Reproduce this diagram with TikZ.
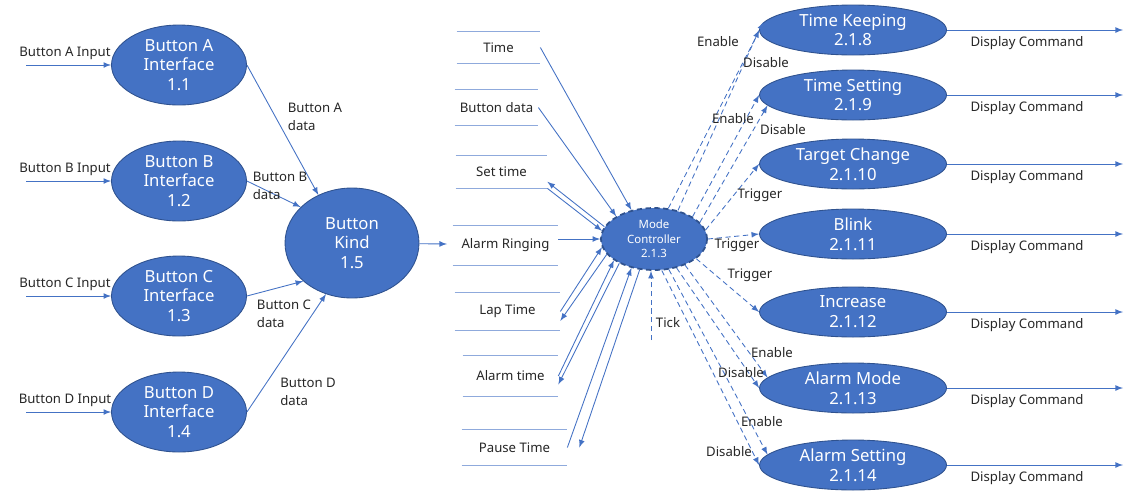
\documentclass[tikz,border=0pt]{standalone}
\usepackage{fontspec}
\setmainfont{Noto Sans}
\usetikzlibrary{shapes.geometric}

\definecolor{procblue}{HTML}{4472C4}
\definecolor{rimblue}{HTML}{2F528F}
\definecolor{flowblue}{HTML}{4472C4}
\definecolor{storeline}{HTML}{8FAADC}
\definecolor{labelgray}{HTML}{262626}

\begin{document}
\begin{tikzpicture}[
    x=0.02cm, y=-0.02cm,
    proc/.style={ellipse, draw=rimblue, line width=0.5pt, fill=procblue, text=white, align=center, inner sep=0pt, font=\fontsize{9.5}{11}\selectfont},
    button/.style={proc, minimum width=2.7cm, minimum height=1.6cm},
    mode/.style={proc, minimum width=3.74cm, minimum height=1cm, font=\fontsize{9.5}{11.3}\selectfont},
    store/.style={inner sep=0pt, text=labelgray, font=\fontsize{7.5}{9}\selectfont},
    lbl/.style={inner sep=1pt, align=left, text=labelgray, font=\fontsize{7.5}{10}\selectfont},
    flow/.style={draw=flowblue, line width=0.5pt, -latex},
    ctrl/.style={flow, densely dashed}
]
\useasboundingbox (0,0) rectangle (1125,491);

% button interfaces
\foreach \nm/\ab/\num/\yy in {ifa/A/1/65, ifb/B/2/181, ifc/C/3/296, ifd/D/4/412} {
    \node [button] (\nm) at (179,\yy) {Button \ab\\Interface\\1.\num};
    \coordinate (\nm-in) at (26,\yy);
    \draw [flow] (\nm-in) -- (\nm);
    \node [lbl] (\nm-lbl) at (65,\yy-12) {Button \ab\ Input};
}

\node [proc, minimum width=2.68cm, minimum height=2.2cm] (kind) at (352,243) {Button\\Kind\\1.5};

\draw [flow] (ifa.east) -- (kind.125);
\draw [flow] (ifb.east) -- (kind.145);
\draw [flow] (ifc.east) -- (kind.218);
\draw [flow] (ifd.east) -- (kind.243);
\node [lbl] (adata) at (315,117) {Button A\\data};
\node [lbl] (bdata) at (280,186) {Button B\\data};
\node [lbl] (cdata) at (284,314) {Button C\\data};
\node [lbl] (ddata) at (308,392) {Button D\\data};

\coordinate (kind-out) at (447,244);
\draw [flow] (kind) -- (kind-out);

% data stores
\foreach \nm/\txt/\xa/\xb/\ya/\yb in {
    time/Time/457/540/32/63,
    btn/Button data/455/538/90/125,
    set/Set time/456/547/156/188,
    ring/Alarm Ringing/453/558/226/265,
    lap/Lap Time/455/560/293/330,
    alarm/Alarm time/463/558/356/396,
    pause/Pause Time/462/567/430/465} {
    \node [store, minimum width={(\xb-\xa)*0.02cm}, minimum height={(\yb-\ya)*0.02cm}] (\nm) at ({(\xa+\xb)/2},{(\ya+\yb)/2}) {\txt};
    \draw [storeline] (\nm.north west) -- (\nm.north east) (\nm.south west) -- (\nm.south east);
}

% mode controller
\node [proc, densely dashed, line width=1pt, minimum width=2.12cm, minimum height=1.24cm, font=\fontsize{6.5}{8.2}\selectfont] (mc) at (654,239) {Mode\\Controller\\2.1.3};

\draw [flow] (time.east) -- (mc.128);
\draw [flow] (btn.east) -- (mc.149);
\draw [flow] (mc.166) -- (set.-12);
\draw [flow] (set.south east) -- (mc.171);
\draw [flow] (ring.east |- mc.west) -- (mc.west);
\draw [flow] (lap.east) -- (mc.189);
\draw [flow] (mc.198) -- (lap.-10);
\draw [flow] (alarm.east) -- (mc.208);
\draw [flow] (mc.215) -- (alarm.-10);
\draw [flow] (pause.east) -- (mc.232);
\draw [flow] (mc.245) -- ([xshift=0.24cm]pause.east);

\coordinate (tick) at (651,340);
\draw [ctrl] (tick) -- (tick |- mc.south);
\node [lbl] (ticklbl) at (668,323) {Tick};

% modes
\foreach \nm/\txt/\yy in {
    tk/Time Keeping\\2.1.8/30,
    ts/Time Setting\\2.1.9/95,
    tc/Target Change\\2.1.10/164,
    bl/Blink\\2.1.11/234,
    inc/Increase\\2.1.12/312,
    am/Alarm Mode\\2.1.13/388,
    as/Alarm Setting\\2.1.14/465} {
    \node [mode] (\nm) at (853,\yy) {\txt};
    \coordinate (\nm-out) at (1123,\yy);
    \draw [flow] (\nm) -- (\nm-out) node [lbl, below=2.5pt, pos=0.455] {Display Command};
}

\draw [ctrl] (mc.65) -- (tk.175);
\draw [ctrl] (mc.50) -- (tk.west);
\draw [ctrl] (mc.30) -- (ts.west);
\draw [ctrl] (mc.20) -- (ts.187);
\draw [ctrl] (mc.10) -- (tc.west);
\draw [ctrl] (mc.east) -- (bl.west);
\draw [ctrl] (mc.-25) -- (inc.west);
\draw [ctrl] (mc.-40) -- (am.173);
\draw [ctrl] (mc.-52) -- (am.west);
\draw [ctrl] (mc.-64) -- (as.173);
\draw [ctrl] (mc.-76) -- (as.west);

\node [lbl] (tkon) at (718,42) {Enable};
\node [lbl] (tkoff) at (766,63) {Disable};
\node [lbl] (tson) at (733,119) {Enable};
\node [lbl] (tsoff) at (783,130) {Disable};
\node [lbl] (tctrig) at (760,195) {Trigger};
\node [lbl] (bltrig) at (737,245) {Trigger};
\node [lbl] (inctrig) at (750,275) {Trigger};
\node [lbl] (amon) at (772,353) {Enable};
\node [lbl] (amoff) at (741,373) {Disable};
\node [lbl] (ason) at (762,422) {Enable};
\node [lbl] (asoff) at (729,452) {Disable};
\end{tikzpicture}
\end{document}
